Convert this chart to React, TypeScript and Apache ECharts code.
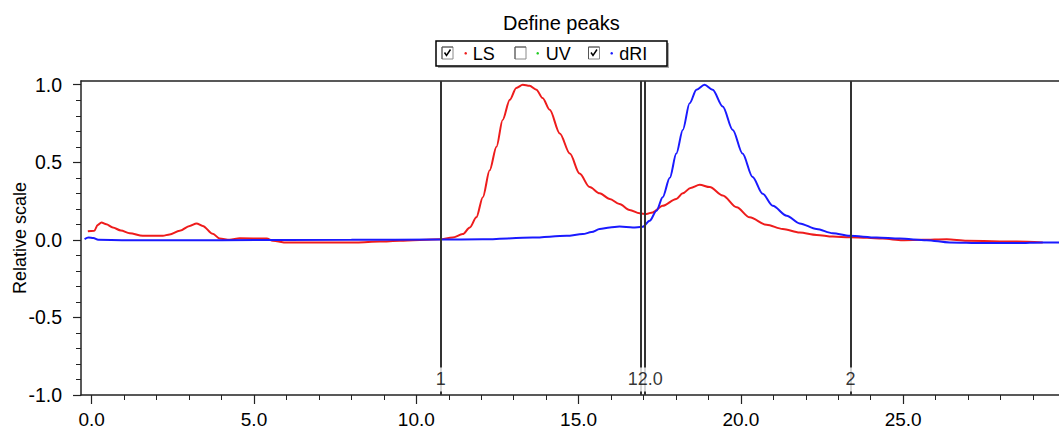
import React, { useEffect, useRef } from "react";
import * as echarts from "echarts";

const lsTime = [-0.12, 0.08, 0.18, 0.3, 0.45, 0.65, 0.9, 1.17, 1.57, 2.19, 2.4, 2.71, 3.02, 3.23, 3.42, 3.73, 3.94, 4.25, 4.56, 5.39, 5.58, 6.01, 6.81, 8.16, 8.87, 9.49, 10.72, 11.12, 11.43, 11.65, 11.85, 12.05, 12.26, 12.47, 12.66, 12.88, 13.08, 13.28, 13.49, 13.7, 13.89, 14.11, 14.42, 14.73, 15.03, 15.34, 15.65, 15.96, 16.26, 16.57, 16.88, 17.09, 17.28, 17.59, 18.01, 18.21, 18.45, 18.73, 19.04, 19.44, 19.87, 20.27, 20.79, 21.29, 21.81, 22.33, 22.83, 23.35, 23.88, 24.37, 24.98, 25.6, 26.34, 26.96, 28.5, 29.3];
const lsValue = [0.055, 0.058, 0.095, 0.112, 0.1, 0.08, 0.06, 0.043, 0.026, 0.026, 0.035, 0.058, 0.09, 0.106, 0.09, 0.039, 0.009, 0.0, 0.01, 0.008, -0.006, -0.017, -0.017, -0.017, -0.011, -0.006, 0.004, 0.015, 0.037, 0.08, 0.145, 0.275, 0.448, 0.6, 0.773, 0.903, 0.979, 1.0, 0.993, 0.968, 0.914, 0.838, 0.686, 0.556, 0.427, 0.34, 0.3, 0.264, 0.231, 0.193, 0.171, 0.167, 0.177, 0.22, 0.264, 0.3, 0.335, 0.355, 0.34, 0.286, 0.21, 0.145, 0.097, 0.07, 0.047, 0.032, 0.021, 0.017, 0.013, 0.008, -0.002, 0.0, 0.004, -0.006, -0.011, -0.017];

const driTime = [-0.22, -0.1, 0.05, 0.2, 1.0, 4.0, 8.0, 10.7, 12.05, 13.59, 14.63, 15.13, 15.4, 15.65, 15.96, 16.26, 16.67, 16.97, 17.19, 17.4, 17.59, 17.81, 18.01, 18.21, 18.42, 18.63, 18.88, 19.13, 19.44, 19.75, 20.05, 20.36, 20.67, 20.98, 21.41, 21.81, 22.33, 22.83, 23.35, 24.18, 24.89, 25.72, 26.43, 27.45, 28.5, 29.3, 29.8];
const driValue = [0.005, 0.015, 0.012, 0.0, -0.002, -0.002, 0.0, 0.002, 0.004, 0.015, 0.026, 0.037, 0.05, 0.07, 0.08, 0.086, 0.08, 0.084, 0.123, 0.188, 0.275, 0.4, 0.556, 0.708, 0.88, 0.968, 1.0, 0.968, 0.86, 0.708, 0.556, 0.405, 0.297, 0.22, 0.156, 0.106, 0.07, 0.043, 0.026, 0.015, 0.008, -0.002, -0.017, -0.021, -0.021, -0.017, -0.017];

const peakLineX = [10.75, 16.91, 17.04, 23.38];
const peakLabelX = [10.75, 17.05, 23.38];
const peakLabelText = ["1", "12.0", "2"];
const peakLabelY = -0.9;

const xMajorTicks = [0, 5, 10, 15, 20, 25];
const xMinorTicks = [1, 2, 3, 4, 6, 7, 8, 9, 11, 12, 13, 14, 16, 17, 18, 19, 21, 22, 23, 24, 26, 27, 28, 29];
const yMajorTicks = [-1, -0.5, 0, 0.5, 1];
const yMinorTicks = [-0.9, -0.8, -0.7, -0.6, -0.4, -0.3, -0.2, -0.1, 0.1, 0.2, 0.3, 0.4, 0.6, 0.7, 0.8, 0.9];

const legendNames = ["LS", "UV", "dRI"];
const legendChecked = [true, false, true];
const legendColors = ["#ee1c1c", "#22cc22", "#1a1aff"];

const X_MIN = -0.33;
const X_MAX = 29.8;
const Y_MIN = -1.0;
const Y_MAX = 1.024;

const FONT = "'Liberation Sans', Arial, sans-serif";

export default function App() {
  const ref = useRef<HTMLDivElement>(null);
  useEffect(() => {
    if (!ref.current) return;
    const chart = echarts.init(ref.current, undefined, { renderer: "svg" });
    const axisColor = "#222";
    const lsData = lsTime.map((t, i) => [t, lsValue[i]]);
    const driData = driTime.map((t, i) => [t, driValue[i]]);
    const labelData = peakLabelX.map((x, i) => ({ value: [x, peakLabelY], name: peakLabelText[i] }));

    // legend layout (positions in px)
    const boxX = [442, 515, 588.5];
    const dotX = [465.7, 537.7, 611.7];
    const textX = [472.7, 545.7, 619.3];
    const legendEls: any[] = [
      { type: "rect", z: 100, shape: { x: 438, y: 43, width: 231, height: 25 }, style: { fill: "#a8a8a8" } },
      { type: "rect", z: 101, shape: { x: 436, y: 41, width: 231, height: 25 }, style: { fill: "#fff", stroke: "#000", lineWidth: 1.5 } },
    ];
    legendNames.forEach((name, i) => {
      const x = boxX[i];
      legendEls.push({ type: "rect", z: 110, shape: { x, y: 47, width: 11, height: 12 }, style: { fill: "#fff", stroke: "#8a8a8a", lineWidth: 1 } });
      legendEls.push({ type: "line", z: 111, shape: { x1: x, y1: 47, x2: x + 11, y2: 47 }, style: { stroke: "#555", lineWidth: 1 } });
      legendEls.push({ type: "line", z: 111, shape: { x1: x, y1: 47, x2: x, y2: 59 }, style: { stroke: "#555", lineWidth: 1 } });
      if (legendChecked[i]) {
        legendEls.push({
          type: "polyline",
          z: 112,
          shape: { points: [[x + 2.5, 52.5], [x + 4.5, 55.5], [x + 8.5, 49.5]] },
          style: { stroke: "#000", lineWidth: 1.5, fill: "none" },
        });
      }
      legendEls.push({ type: "circle", z: 110, shape: { cx: dotX[i], cy: 53.3, r: 1.3 }, style: { fill: legendColors[i] } });
      legendEls.push({
        type: "text",
        z: 110,
        x: textX[i],
        y: 53.5,
        style: { text: name, fill: "#000", font: `18px ${FONT}`, verticalAlign: "middle", align: "left" },
      });
    });

    chart.setOption({
      animation: false,
      backgroundColor: "#fff",
      title: {
        text: "Define peaks",
        left: 498,
        top: 8,
        textStyle: { fontSize: 20, fontWeight: "normal", color: "#000", fontFamily: FONT },
      },
      grid: { left: 81, top: 81, right: 0, bottom: 35, containLabel: false, outerBoundsMode: "none" },
      xAxis: [
        {
          type: "value",
          min: X_MIN,
          max: X_MAX,
          position: "bottom",
          axisLine: { show: true, onZero: false, lineStyle: { color: axisColor, width: 1.5 } },
          axisTick: { show: true, customValues: xMajorTicks, length: 9, lineStyle: { color: axisColor, width: 1.2 } },
          axisLabel: {
            show: true,
            customValues: xMajorTicks,
            formatter: (v: number) => v.toFixed(1),
            fontSize: 19,
            color: "#000",
            fontFamily: FONT,
            margin: 15,
          },
          splitLine: { show: false },
        },
        {
          type: "value",
          min: X_MIN,
          max: X_MAX,
          position: "bottom",
          axisLine: { show: false, onZero: false },
          axisTick: { show: true, customValues: xMinorTicks, length: 5, lineStyle: { color: axisColor, width: 1 } },
          axisLabel: { show: false },
          splitLine: { show: false },
        },
        {
          type: "value",
          min: X_MIN,
          max: X_MAX,
          position: "top",
          axisLine: { show: true, onZero: false, lineStyle: { color: axisColor, width: 1.5 } },
          axisTick: { show: false },
          axisLabel: { show: false },
          splitLine: { show: false },
        },
      ],
      yAxis: [
        {
          type: "value",
          min: Y_MIN,
          max: Y_MAX,
          position: "left",
          name: "Relative scale",
          nameLocation: "middle",
          nameGap: 52,
          nameMoveOverlap: false,
          nameTextStyle: { fontSize: 18, color: "#000", fontFamily: FONT },
          axisLine: { show: true, onZero: false, lineStyle: { color: axisColor, width: 1.5 } },
          axisTick: { show: true, customValues: yMajorTicks, length: 8, lineStyle: { color: axisColor, width: 1.2 } },
          axisLabel: {
            show: true,
            customValues: yMajorTicks,
            formatter: (v: number) => v.toFixed(1),
            fontSize: 19.5,
            color: "#000",
            fontFamily: FONT,
            margin: 19,
          },
          splitLine: { show: false },
        },
        {
          type: "value",
          min: Y_MIN,
          max: Y_MAX,
          position: "left",
          offset: 0,
          axisLine: { show: false, onZero: false },
          axisTick: { show: true, customValues: yMinorTicks, length: 5, lineStyle: { color: axisColor, width: 1 } },
          axisLabel: { show: false },
          splitLine: { show: false },
        },
      ],
      series: [
        {
          name: "LS",
          type: "line",
          data: lsData,
          showSymbol: false,
          smooth: 0.3,
          smoothMonotone: "x",
          clip: false,
          lineStyle: { color: "#ee1c1c", width: 2 },
          itemStyle: { color: "#ee1c1c" },
          z: 3,
          markLine: {
            silent: true,
            symbol: ["none", "none"],
            label: { show: false },
            lineStyle: { color: "#333", width: 2, type: "solid" },
            data: peakLineX.map((x) => ({ xAxis: x })),
          },
        },
        {
          name: "dRI",
          type: "line",
          data: driData,
          showSymbol: false,
          smooth: 0.3,
          smoothMonotone: "x",
          clip: false,
          lineStyle: { color: "#1a1aff", width: 2 },
          itemStyle: { color: "#1a1aff" },
          z: 4,
        },
        {
          name: "peakLabels",
          type: "scatter",
          data: labelData,
          symbolSize: 1,
          itemStyle: { color: "rgba(0,0,0,0)" },
          z: 10,
          label: {
            show: true,
            position: "inside",
            formatter: (p: any) => p.name,
            fontSize: 18,
            color: "#000",
            fontFamily: FONT,
            backgroundColor: "#fff",
            padding: [3, 1],
          },
        },
      ],
      graphic: legendEls,
    });
    return () => chart.dispose();
  }, []);
  return <div ref={ref} style={{ position: "absolute", left: 0, top: 0, width: 1059, height: 430 }} />;
}
